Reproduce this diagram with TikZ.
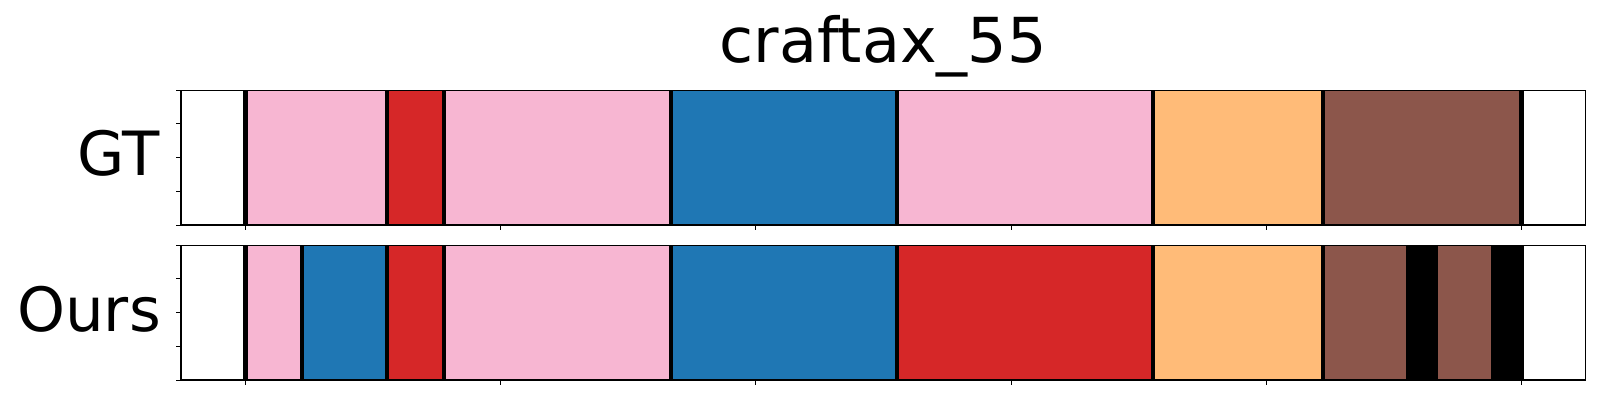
\documentclass[tikz,border=0pt]{standalone}
\usepackage{fontspec}
\setmainfont{DejaVu Sans}
\usepackage{tikz}
\definecolor{segpink}{HTML}{F7B6D2}
\definecolor{segred}{HTML}{D62728}
\definecolor{segblue}{HTML}{1F77B4}
\definecolor{segorange}{HTML}{FFBB78}
\definecolor{segbrown}{HTML}{8C564B}
\tikzset{
  frame/.style={draw=black, line width=1.1pt},
  cut/.style={draw=black, line width=4.4pt},
  tick/.style={draw=black, line width=1pt},
  label/.style={font=\fontsize{61}{70}\selectfont, anchor=base east, inner sep=0pt},
}

\begin{document}
\begin{tikzpicture}[x=1pt,y=-1pt]
\useasboundingbox (0,0) rectangle (1600,400);
% GT row
\foreach \a/\b/\c in {245.3/386.7/segpink,386.7/444/segred,444/670.7/segpink,670.7/896.7/segblue,
  896.7/1152.7/segpink,1152.7/1322.7/segorange,1322.7/1521.5/segbrown}
  \fill[\c] (\a,90.3) rectangle (\b,225);
\foreach \x in {245.3,386.7,444,670.7,896.7,1152.7,1322.7,1521.5} \draw[cut] (\x,90.3) -- (\x,225);
% Ours row
\foreach \a/\b/\c in {245.3/301.7/segpink,301.7/386.7/segblue,386.7/444/segred,444/670.7/segpink,
  670.7/896.7/segblue,896.7/1152.7/segred,1152.7/1322.7/segorange,1322.7/1405.7/segbrown,
  1405.7/1437.7/black,1437.7/1490.7/segbrown,1490.7/1521.5/black}
  \fill[\c] (\a,245.3) rectangle (\b,380);
\foreach \x in {245.3,301.7,386.7,444,670.7,896.7,1152.7,1322.7,1521.5} \draw[cut] (\x,245.3) -- (\x,380);

\foreach \t/\bt in {90.3/225,245.3/380} {
  \draw[frame] (181,\t) rectangle (1585.3,\bt);
  \foreach \k in {0,...,4} \draw[tick] (181,{\t+\k*(\bt-\t)/4}) -- ++(-5,0);
  \foreach \k in {0,...,5} \draw[tick] ({245.3+\k*255.24},\bt) -- ++(0,5);
}

\node[label] (gt) at (160,175) {GT};
\node[label] (ours) at (161,331) {Ours};
\node[font=\fontsize{62}{70}\selectfont, anchor=base, inner sep=0pt] (title) at (883.1,62) {craftax\_55};
\end{tikzpicture}
\end{document}
